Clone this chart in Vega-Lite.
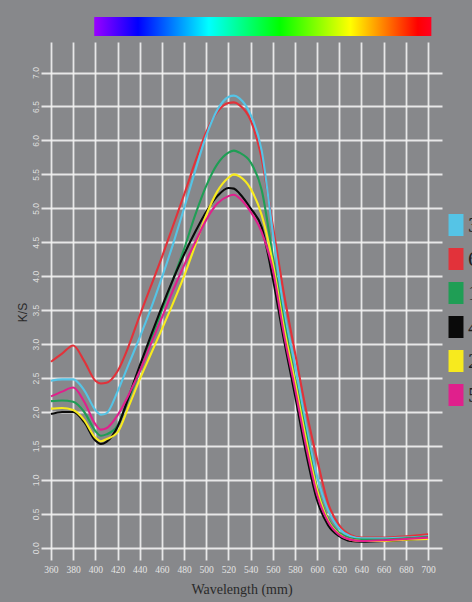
{
  "$schema": "https://vega.github.io/schema/vega-lite/v6.json",
  "width": 401,
  "height": 518,
  "autosize": {"type": "none"},
  "padding": {"left": 41, "top": 42, "right": 30, "bottom": 42},
  "background": "#87888b",
  "config": {
    "view": {"stroke": null, "fill": "#87888b"},
    "axis": {"domain": false, "ticks": false, "tickSize": 0, "gridColor": "#f2f2f2", "gridWidth": 1.8, "gridOpacity": 0.9, "labelOverlap": false}
  },
  "datasets": {
    "spectrum": [{"x1": 399, "x2": 703, "y1": 7.54, "y2": 7.82}],
    "curves": [
      {"s":"6","wl":360,"ks":2.74},{"s":"6","wl":370,"ks":2.86},{"s":"6","wl":380,"ks":2.98},{"s":"6","wl":390,"ks":2.75},{"s":"6","wl":400,"ks":2.46},{"s":"6","wl":405,"ks":2.42},{"s":"6","wl":410,"ks":2.43},{"s":"6","wl":420,"ks":2.6},{"s":"6","wl":430,"ks":2.97},{"s":"6","wl":440,"ks":3.42},{"s":"6","wl":450,"ks":3.85},{"s":"6","wl":460,"ks":4.28},{"s":"6","wl":470,"ks":4.74},{"s":"6","wl":480,"ks":5.2},{"s":"6","wl":490,"ks":5.68},{"s":"6","wl":500,"ks":6.12},{"s":"6","wl":510,"ks":6.42},{"s":"6","wl":520,"ks":6.55},{"s":"6","wl":525,"ks":6.56},{"s":"6","wl":530,"ks":6.52},{"s":"6","wl":540,"ks":6.3},{"s":"6","wl":550,"ks":5.73},{"s":"6","wl":560,"ks":4.75},{"s":"6","wl":570,"ks":3.75},{"s":"6","wl":580,"ks":2.88},{"s":"6","wl":590,"ks":2.03},{"s":"6","wl":600,"ks":1.3},{"s":"6","wl":610,"ks":0.65},{"s":"6","wl":620,"ks":0.33},{"s":"6","wl":630,"ks":0.19},{"s":"6","wl":640,"ks":0.15},{"s":"6","wl":660,"ks":0.15},{"s":"6","wl":680,"ks":0.17},{"s":"6","wl":700,"ks":0.2},

      {"s":"3","wl":360,"ks":2.46},{"s":"3","wl":370,"ks":2.48},{"s":"3","wl":380,"ks":2.48},{"s":"3","wl":390,"ks":2.32},{"s":"3","wl":400,"ks":2.03},{"s":"3","wl":405,"ks":1.96},{"s":"3","wl":410,"ks":1.98},{"s":"3","wl":420,"ks":2.3},{"s":"3","wl":430,"ks":2.7},{"s":"3","wl":440,"ks":3.1},{"s":"3","wl":450,"ks":3.52},{"s":"3","wl":460,"ks":3.98},{"s":"3","wl":470,"ks":4.47},{"s":"3","wl":480,"ks":5.0},{"s":"3","wl":490,"ks":5.55},{"s":"3","wl":500,"ks":6.07},{"s":"3","wl":510,"ks":6.45},{"s":"3","wl":520,"ks":6.64},{"s":"3","wl":525,"ks":6.66},{"s":"3","wl":530,"ks":6.62},{"s":"3","wl":540,"ks":6.38},{"s":"3","wl":550,"ks":5.85},{"s":"3","wl":560,"ks":4.65},{"s":"3","wl":570,"ks":3.5},{"s":"3","wl":580,"ks":2.7},{"s":"3","wl":590,"ks":1.8},{"s":"3","wl":600,"ks":1.05},{"s":"3","wl":610,"ks":0.55},{"s":"3","wl":620,"ks":0.28},{"s":"3","wl":630,"ks":0.17},{"s":"3","wl":640,"ks":0.14},{"s":"3","wl":660,"ks":0.14},{"s":"3","wl":680,"ks":0.15},{"s":"3","wl":700,"ks":0.17},

      {"s":"1","wl":360,"ks":2.16},{"s":"1","wl":370,"ks":2.17},{"s":"1","wl":380,"ks":2.15},{"s":"1","wl":390,"ks":2.0},{"s":"1","wl":400,"ks":1.72},{"s":"1","wl":405,"ks":1.65},{"s":"1","wl":410,"ks":1.67},{"s":"1","wl":420,"ks":1.8},{"s":"1","wl":430,"ks":2.2},{"s":"1","wl":440,"ks":2.6},{"s":"1","wl":450,"ks":3.05},{"s":"1","wl":460,"ks":3.5},{"s":"1","wl":470,"ks":3.95},{"s":"1","wl":480,"ks":4.4},{"s":"1","wl":490,"ks":4.9},{"s":"1","wl":500,"ks":5.33},{"s":"1","wl":510,"ks":5.65},{"s":"1","wl":520,"ks":5.82},{"s":"1","wl":525,"ks":5.85},{"s":"1","wl":530,"ks":5.82},{"s":"1","wl":540,"ks":5.68},{"s":"1","wl":550,"ks":5.27},{"s":"1","wl":560,"ks":4.3},{"s":"1","wl":570,"ks":3.35},{"s":"1","wl":580,"ks":2.5},{"s":"1","wl":590,"ks":1.68},{"s":"1","wl":600,"ks":0.88},{"s":"1","wl":610,"ks":0.42},{"s":"1","wl":620,"ks":0.22},{"s":"1","wl":630,"ks":0.14},{"s":"1","wl":640,"ks":0.12},{"s":"1","wl":660,"ks":0.12},{"s":"1","wl":680,"ks":0.14},{"s":"1","wl":700,"ks":0.16},

      {"s":"4","wl":360,"ks":1.97},{"s":"4","wl":370,"ks":2.0},{"s":"4","wl":380,"ks":2.0},{"s":"4","wl":390,"ks":1.85},{"s":"4","wl":400,"ks":1.58},{"s":"4","wl":405,"ks":1.53},{"s":"4","wl":410,"ks":1.56},{"s":"4","wl":420,"ks":1.78},{"s":"4","wl":430,"ks":2.22},{"s":"4","wl":440,"ks":2.68},{"s":"4","wl":450,"ks":3.12},{"s":"4","wl":460,"ks":3.55},{"s":"4","wl":470,"ks":3.95},{"s":"4","wl":480,"ks":4.32},{"s":"4","wl":490,"ks":4.65},{"s":"4","wl":500,"ks":4.95},{"s":"4","wl":510,"ks":5.18},{"s":"4","wl":520,"ks":5.3},{"s":"4","wl":525,"ks":5.29},{"s":"4","wl":530,"ks":5.22},{"s":"4","wl":540,"ks":5.0},{"s":"4","wl":550,"ks":4.72},{"s":"4","wl":560,"ks":3.97},{"s":"4","wl":570,"ks":3.07},{"s":"4","wl":580,"ks":2.25},{"s":"4","wl":590,"ks":1.4},{"s":"4","wl":600,"ks":0.7},{"s":"4","wl":610,"ks":0.33},{"s":"4","wl":620,"ks":0.17},{"s":"4","wl":630,"ks":0.1},{"s":"4","wl":640,"ks":0.09},{"s":"4","wl":660,"ks":0.1},{"s":"4","wl":680,"ks":0.12},{"s":"4","wl":700,"ks":0.14},

      {"s":"2","wl":360,"ks":2.05},{"s":"2","wl":370,"ks":2.06},{"s":"2","wl":380,"ks":2.03},{"s":"2","wl":390,"ks":1.88},{"s":"2","wl":400,"ks":1.62},{"s":"2","wl":405,"ks":1.57},{"s":"2","wl":410,"ks":1.6},{"s":"2","wl":420,"ks":1.7},{"s":"2","wl":430,"ks":2.08},{"s":"2","wl":440,"ks":2.48},{"s":"2","wl":450,"ks":2.85},{"s":"2","wl":460,"ks":3.22},{"s":"2","wl":470,"ks":3.6},{"s":"2","wl":480,"ks":4.0},{"s":"2","wl":490,"ks":4.45},{"s":"2","wl":500,"ks":4.9},{"s":"2","wl":510,"ks":5.25},{"s":"2","wl":520,"ks":5.45},{"s":"2","wl":525,"ks":5.5},{"s":"2","wl":530,"ks":5.47},{"s":"2","wl":540,"ks":5.29},{"s":"2","wl":550,"ks":4.9},{"s":"2","wl":560,"ks":4.2},{"s":"2","wl":570,"ks":3.25},{"s":"2","wl":580,"ks":2.45},{"s":"2","wl":590,"ks":1.6},{"s":"2","wl":600,"ks":0.85},{"s":"2","wl":610,"ks":0.4},{"s":"2","wl":620,"ks":0.2},{"s":"2","wl":630,"ks":0.12},{"s":"2","wl":640,"ks":0.1},{"s":"2","wl":660,"ks":0.1},{"s":"2","wl":680,"ks":0.12},{"s":"2","wl":700,"ks":0.13},

      {"s":"5","wl":360,"ks":2.23},{"s":"5","wl":370,"ks":2.3},{"s":"5","wl":380,"ks":2.36},{"s":"5","wl":390,"ks":2.15},{"s":"5","wl":400,"ks":1.82},{"s":"5","wl":405,"ks":1.74},{"s":"5","wl":410,"ks":1.76},{"s":"5","wl":420,"ks":1.95},{"s":"5","wl":430,"ks":2.25},{"s":"5","wl":440,"ks":2.6},{"s":"5","wl":450,"ks":3.0},{"s":"5","wl":460,"ks":3.39},{"s":"5","wl":470,"ks":3.79},{"s":"5","wl":480,"ks":4.16},{"s":"5","wl":490,"ks":4.5},{"s":"5","wl":500,"ks":4.83},{"s":"5","wl":510,"ks":5.07},{"s":"5","wl":520,"ks":5.18},{"s":"5","wl":525,"ks":5.2},{"s":"5","wl":530,"ks":5.15},{"s":"5","wl":540,"ks":4.95},{"s":"5","wl":550,"ks":4.65},{"s":"5","wl":560,"ks":4.1},{"s":"5","wl":570,"ks":3.15},{"s":"5","wl":580,"ks":2.35},{"s":"5","wl":590,"ks":1.5},{"s":"5","wl":600,"ks":0.78},{"s":"5","wl":610,"ks":0.38},{"s":"5","wl":620,"ks":0.19},{"s":"5","wl":630,"ks":0.12},{"s":"5","wl":640,"ks":0.1},{"s":"5","wl":660,"ks":0.11},{"s":"5","wl":680,"ks":0.13},{"s":"5","wl":700,"ks":0.15}
    ]
  },
  "layer": [
    {
      "data": {"name": "spectrum"},
      "mark": {
        "type": "rect",
        "clip": false,
        "fill": {
          "gradient": "linear", "x1": 0, "x2": 1, "y1": 0, "y2": 0,
          "stops": [
            {"offset": 0, "color": "#9a00ff"},
            {"offset": 0.13, "color": "#0000ff"},
            {"offset": 0.34, "color": "#00ffff"},
            {"offset": 0.55, "color": "#00ff00"},
            {"offset": 0.76, "color": "#ffff00"},
            {"offset": 0.96, "color": "#ff0000"},
            {"offset": 1, "color": "#ff0020"}
          ]
        }
      },
      "encoding": {
        "x": {"field": "x1", "type": "quantitative", "scale": {"domain": [351, 712.6], "nice": false, "zero": false}},
        "x2": {"field": "x2"},
        "y": {"field": "y1", "type": "quantitative", "scale": {"domain": [-0.18, 7.45], "nice": false, "zero": false}},
        "y2": {"field": "y2"}
      }
    },
    {
      "data": {"name": "curves"},
      "mark": {"type": "line", "interpolate": "monotone", "strokeWidth": 2.1},
      "encoding": {
        "x": {
          "field": "wl", "type": "quantitative",
          "scale": {"domain": [351, 712.6], "nice": false, "zero": false},
          "axis": {
            "values": [360,380,400,420,440,460,480,500,520,540,560,580,600,620,640,660,680,700],
            "tickCount": 100,
            "title": "Wavelength (mm)",
            "labelFont": "Liberation Serif", "labelFontSize": 9.5, "labelColor": "#e4e4e4", "labelPadding": 4,
            "titleFont": "Liberation Serif", "titleFontSize": 14, "titleFontWeight": "normal", "titleColor": "#2a2a2a", "titlePadding": 9
          }
        },
        "y": {
          "field": "ks", "type": "quantitative",
          "scale": {"domain": [-0.18, 7.45], "nice": false, "zero": false},
          "axis": {
            "values": [0,0.5,1,1.5,2,2.5,3,3.5,4,4.5,5,5.5,6,6.5,7],
            "tickCount": 100,
            "format": ".1f",
            "title": "K/S",
            "labelAngle": -90, "labelAlign": "center", "labelBaseline": "bottom",
            "labelFont": "Liberation Sans", "labelFontSize": 8.5, "labelColor": "#dedede", "labelPadding": 1,
            "titleFont": "Liberation Sans", "titleFontSize": 12, "titleFontWeight": "normal", "titleColor": "#2a2a2a",
            "titleX": -12, "titleY": 270
          }
        },
        "color": {
          "field": "s", "type": "nominal",
          "scale": {"domain": ["3","6","1","4","2","5"], "range": ["#55c4e6","#e2323a","#1f9e55","#0a0a0a","#f7ea1e","#e0208c"]},
          "legend": {
            "orient": "none", "legendX": 404, "legendY": 172, "title": null,
            "symbolType": "M-0.68,-1H0.68V1H-0.68Z", "symbolSize": 484, "symbolStrokeWidth": 0,
            "labelFont": "Liberation Serif", "labelFontSize": 22, "labelColor": "#1e1e1e", "labelOffset": 1,
            "rowPadding": 12, "padding": 0,
            "encode": {"symbols": {"update": {"fill": {"scale": "color", "field": "value"}, "fillOpacity": {"value": 1}, "strokeWidth": {"value": 0}}}}
          }
        }
      }
    }
  ]
}
